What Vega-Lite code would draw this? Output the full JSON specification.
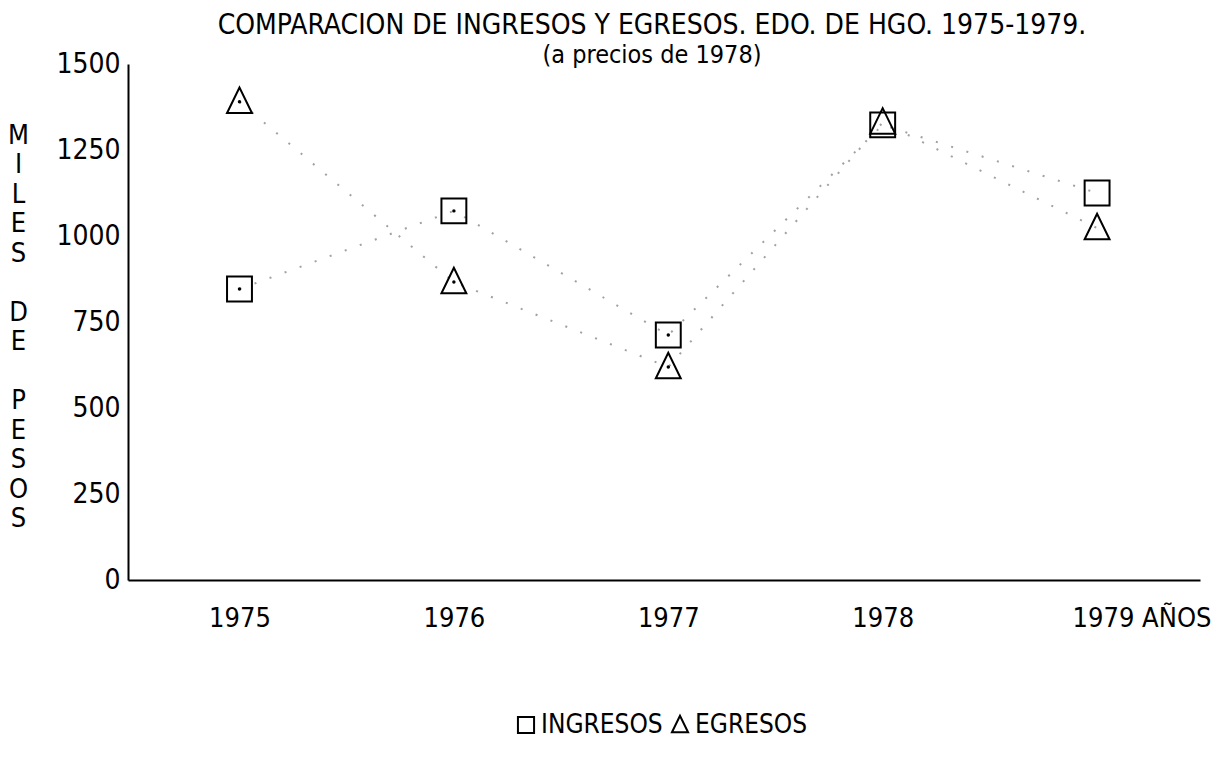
{
  "$schema": "https://vega.github.io/schema/vega-lite/v6.json",
  "width": 1072,
  "height": 516,
  "autosize": "none",
  "padding": {"left": 128, "top": 64, "right": 16, "bottom": 177},
  "background": "white",
  "config": {
    "font": "Liberation Sans Narrow, DejaVu Sans Condensed, sans-serif",
    "view": {"stroke": null}
  },
  "title": {
    "text": "COMPARACION DE INGRESOS Y EGRESOS. EDO. DE HGO. 1975-1979.",
    "subtitle": "(a precios de 1978)",
    "anchor": "middle",
    "dx": -12,
    "offset": -18,
    "font": "Liberation Sans Narrow, DejaVu Sans Condensed, sans-serif",
    "fontSize": 28,
    "fontWeight": "normal",
    "color": "black",
    "subtitleFont": "Liberation Sans Narrow, DejaVu Sans Condensed, sans-serif",
    "subtitleFontSize": 25,
    "subtitleColor": "black",
    "subtitlePadding": 3
  },
  "data": {
    "values": [
      {"anio": 1975, "serie": "INGRESOS", "valor": 846},
      {"anio": 1976, "serie": "INGRESOS", "valor": 1073},
      {"anio": 1977, "serie": "INGRESOS", "valor": 712},
      {"anio": 1978, "serie": "INGRESOS", "valor": 1323},
      {"anio": 1979, "serie": "INGRESOS", "valor": 1125},
      {"anio": 1975, "serie": "EGRESOS", "valor": 1390},
      {"anio": 1976, "serie": "EGRESOS", "valor": 866},
      {"anio": 1977, "serie": "EGRESOS", "valor": 619},
      {"anio": 1978, "serie": "EGRESOS", "valor": 1330},
      {"anio": 1979, "serie": "EGRESOS", "valor": 1023}
    ]
  },
  "encoding": {
    "x": {
      "field": "anio",
      "type": "quantitative",
      "scale": {"domain": [1974.48, 1979.48], "nice": false, "zero": false},
      "axis": {
        "title": null,
        "grid": false,
        "values": [1975, 1975.5, 1976, 1976.5, 1977, 1977.5, 1978, 1978.5, 1979, 1979.48],
        "format": "d",
        "labelExpr": "datum.value == 1979 ? '1979 AÑOS' : (datum.value % 1 == 0 ? datum.label : '')",
        "labelAlign": {"condition": {"test": "datum.value == 1979", "value": "left"}, "value": "center"},
        "labelOffset": {"condition": {"test": "datum.value == 1979", "value": -25}, "value": 0},
        "labelOverlap": false,
        "labelFlush": false,
        "labelBound": false,
        "labelFontSize": 27,
        "labelColor": "black",
        "labelPadding": 18,
        "domainColor": "black",
        "domainWidth": 2,
        "tickColor": "black",
        "tickWidth": 2,
        "tickSize": 7,
        "tickOpacity": {"condition": {"test": "datum.value % 1 == 0", "value": 0}, "value": 1}
      }
    },
    "y": {
      "field": "valor",
      "type": "quantitative",
      "scale": {"domain": [0, 1500], "nice": false},
      "axis": {
        "values": [0, 250, 500, 750, 1000, 1250, 1500],
        "format": "d",
        "grid": false,
        "ticks": false,
        "tickSize": 0,
        "labelPadding": 8,
        "labelFontSize": 28,
        "labelColor": "black",
        "domainColor": "black",
        "domainWidth": 2,
        "title": ["M", "I", "L", "E", "S", "\u2800", "D", "E", "\u2800", "P", "E", "S", "O", "S"],
        "titleAngle": 0,
        "titleFontSize": 27,
        "titleFontWeight": "normal",
        "titleColor": "black",
        "titleLineHeight": 29.5,
        "titleAlign": "center",
        "titleBaseline": "middle",
        "titleX": -110,
        "titleY": 71
      }
    }
  },
  "layer": [
    {
      "mark": {"type": "line", "strokeDash": [2, 14], "strokeWidth": 2, "color": "#444444", "opacity": 0.5},
      "encoding": {"detail": {"field": "serie", "type": "nominal"}}
    },
    {
      "mark": {"type": "point", "filled": false, "stroke": "black", "strokeWidth": 2, "size": 620, "opacity": 1},
      "encoding": {
        "shape": {
          "field": "serie",
          "type": "nominal",
          "scale": {"domain": ["INGRESOS", "EGRESOS"], "range": ["square", "M0,-1.15L-1,0.9L1,0.9Z"]},
          "legend": {
            "title": null,
            "orient": "none",
            "direction": "horizontal",
            "legendX": 385,
            "legendY": 648,
            "symbolSize": 260,
            "symbolStrokeColor": "black",
            "symbolStrokeWidth": 2,
            "symbolFillColor": "transparent",
            "labelFontSize": 26,
            "labelColor": "black",
            "labelOffset": 2,
            "columnPadding": 4,
            "symbolOffset": 0
          }
        }
      }
    },
    {
      "transform": [{"filter": "datum.anio <= 1977"}],
      "mark": {"type": "circle", "size": 12, "color": "black", "opacity": 1}
    }
  ]
}
